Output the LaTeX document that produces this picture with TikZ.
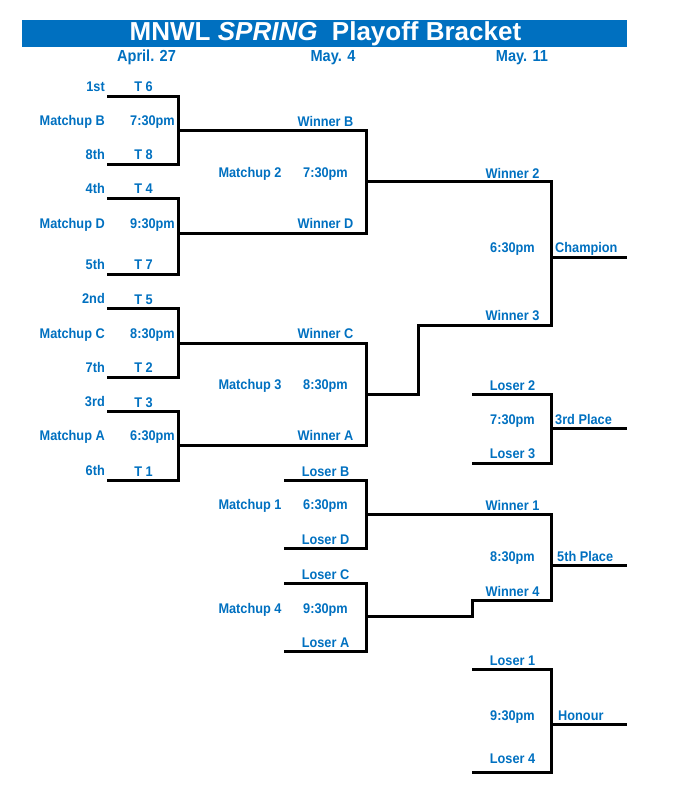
\documentclass[tikz,border=0pt]{standalone}
\usepackage{fontspec}
\setmainfont{Liberation Sans}
\newfontfamily\lblfont{Liberation Sans}[FakeStretch=0.91]
\definecolor{myblue}{HTML}{0070C0}
\begin{document}
\begin{tikzpicture}[x=1pt,y=-1pt,
 br/.style={line width=3pt, line join=miter},
 lbl/.style={text=myblue, font=\lblfont\bfseries\fontsize{14}{16}\selectfont, inner sep=0pt},
 lr/.style={lbl, anchor=base east},
 lc/.style={lbl, anchor=base},
 ll/.style={lbl, anchor=base west},
 hdr/.style={text=myblue, font=\lblfont\bfseries\fontsize{16}{18}\selectfont, inner sep=0pt, anchor=base}]
\useasboundingbox (0,0) rectangle (699,797);
% title
\fill[myblue] (22,20) rectangle (627,46.7);
\node[anchor=base, text=white, font=\bfseries\fontsize{26}{29}\selectfont, inner sep=0pt] (title) at (325.5,41) {MNWL \textit{SPRING}\ \ Playoff Bracket};
\node[hdr] (h1) at (146.5,61.5) {April. 27};
\node[hdr] (h2) at (333,61.5) {May. 4};
\node[hdr] (h3) at (522,61.5) {May. 11};
% column 1
\node[lr] (r1) at (105,91.5) {1st};
\node[lr] (mB) at (105,125.5) {Matchup B};
\node[lr] (r8) at (105,159) {8th};
\node[lr] (r4) at (105,193.3) {4th};
\node[lr] (mD) at (105,228.3) {Matchup D};
\node[lr] (r5) at (105,269) {5th};
\node[lr] (r2) at (105,303.5) {2nd};
\node[lr] (mC) at (105,338) {Matchup C};
\node[lr] (r7) at (105,372.3) {7th};
\node[lr] (r3) at (105,406.5) {3rd};
\node[lr] (mA) at (105,440.5) {Matchup A};
\node[lr] (r6) at (105,475.5) {6th};
% column 2
\node[lc] (t6) at (143.5,91.5) {T 6};
\node[lr] (tmB) at (175,125.5) {7:30pm};
\node[lc] (t8) at (143.5,159.5) {T 8};
\node[lc] (t4) at (143.5,193.5) {T 4};
\node[lr] (tmD) at (175,228.3) {9:30pm};
\node[lc] (t7) at (143.5,269.5) {T 7};
\node[lc] (t5) at (143.5,304) {T 5};
\node[lr] (tmC) at (175,338.3) {8:30pm};
\node[lc] (t2) at (143.5,372.5) {T 2};
\node[lc] (t3) at (143.5,407) {T 3};
\node[lr] (tmA) at (175,440.6) {6:30pm};
\node[lc] (t1) at (143.5,476) {T 1};
% column 3
\node[lr] (m2) at (281.7,177) {Matchup 2};
\node[lr] (m3) at (281.7,389) {Matchup 3};
\node[lr] (m1) at (281.7,509.6) {Matchup 1};
\node[lr] (m4) at (281.7,613) {Matchup 4};
\node[lc] (wB) at (325.5,127) {Winner B};
\node[lc] (tm2) at (325.5,177) {7:30pm};
\node[lc] (wD) at (325.5,228.6) {Winner D};
\node[lc] (wC) at (325.5,338.6) {Winner C};
\node[lc] (tm3) at (325.5,389) {8:30pm};
\node[lc] (wA) at (325.5,440.3) {Winner A};
\node[lc] (lB) at (325.5,476.5) {Loser B};
\node[lc] (tm1) at (325.5,509.6) {6:30pm};
\node[lc] (lD) at (325.5,544) {Loser D};
\node[lc] (lC) at (325.5,579.5) {Loser C};
\node[lc] (tm4) at (325.5,613) {9:30pm};
\node[lc] (lA) at (325.5,647.5) {Loser A};
% column 4
\node[lc] (w2) at (512.5,178) {Winner 2};
\node[lc] (tmF) at (512.5,252) {6:30pm};
\node[lc] (w3) at (512.5,320.6) {Winner 3};
\node[lc] (l2) at (512.5,390.5) {Loser 2};
\node[lc] (tmT) at (512.5,424) {7:30pm};
\node[lc] (l3) at (512.5,458.5) {Loser 3};
\node[lc] (w1) at (512.5,510.6) {Winner 1};
\node[lc] (tmV) at (512.5,561.3) {8:30pm};
\node[lc] (w4) at (512.5,596.5) {Winner 4};
\node[lc] (l1) at (512.5,665) {Loser 1};
\node[lc] (tmH) at (512.5,720.3) {9:30pm};
\node[lc] (l4) at (512.5,763.8) {Loser 4};
% column 5
\node[ll] (champ) at (555,252) {Champion};
\node[ll] (third) at (555,424) {3rd Place};
\node[ll] (fifth) at (557,561.3) {5th Place};
\node[ll] (honour) at (558,720.3) {Honour};
% coordinates
\coordinate (xB1) at (107,96.7);   \coordinate (xB2) at (107,164.3);
\coordinate (xD1) at (107,198.3);  \coordinate (xD2) at (107,274);
\coordinate (xC1) at (107,308.3);  \coordinate (xC2) at (107,377.3);
\coordinate (xA1) at (107,411);    \coordinate (xA2) at (107,480);
\coordinate (oB) at (178.3,130.7); \coordinate (oD) at (178.3,233.3);
\coordinate (oC) at (178.3,343.3); \coordinate (oA) at (178.3,445.7);
\coordinate (i2a) at (366.7,130.7); \coordinate (i2b) at (366.7,233.3);
\coordinate (i3a) at (366.7,343.3); \coordinate (i3b) at (366.7,445.7);
\coordinate (xLB) at (284.3,480.7); \coordinate (xLD) at (284.3,548.3);
\coordinate (xLC) at (284.3,583.3); \coordinate (xLA) at (284.3,651.3);
\coordinate (o2) at (366.7,181.5); \coordinate (o3) at (366.7,394.3);
\coordinate (o1) at (366.2,514.3); \coordinate (o4) at (366.2,616.7);
\coordinate (j3) at (418.3,394.3); \coordinate (j4) at (472.7,616.7);
\coordinate (fa) at (551.7,181.5); \coordinate (fb) at (551.7,325.7);
\coordinate (xL2) at (472.3,394.3); \coordinate (xL3) at (472.3,463.3);
\coordinate (va) at (551.7,514.3); \coordinate (vb) at (551.7,600);
\coordinate (xL1) at (472.3,669);  \coordinate (xL4) at (472.3,772.3);
\coordinate (eF) at (551.7,257.3); \coordinate (eT) at (551.7,428.3);
\coordinate (eV) at (551.7,565.7); \coordinate (eH) at (551.7,724.3);
\coordinate (zF) at (626.7,257.3); \coordinate (zT) at (626.7,428.3);
\coordinate (zV) at (626.7,565.7); \coordinate (zH) at (626.7,724.3);
% round 1
\draw[br] (xB1) -| (oB) |- (xB2);
\draw[br] (xD1) -| (oD) |- (xD2);
\draw[br] (xC1) -| (oC) |- (xC2);
\draw[br] (xA1) -| (oA) |- (xA2);
\draw[br] (oB) -- (i2a) -- (i2b) -- (oD);
\draw[br] (oC) -- (i3a) -- (i3b) -- (oA);
\draw[br] (xLB) -| (o1) |- (xLD);
\draw[br] (xLC) -| (o4) |- (xLA);
% round 2
\draw[br] (o2) -- (fa) -- (fb) -| (j3) -- (o3);
\draw[br] (o1) -- (va) -- (vb) -| (j4) -- (o4);
\draw[br] (xL2) -| (eT) |- (xL3);
\draw[br] (xL1) -| (eH) |- (xL4);
% finals
\draw[br] (eF) -- (zF);
\draw[br] (eT) -- (zT);
\draw[br] (eV) -- (zV);
\draw[br] (eH) -- (zH);
\end{tikzpicture}
\end{document}
